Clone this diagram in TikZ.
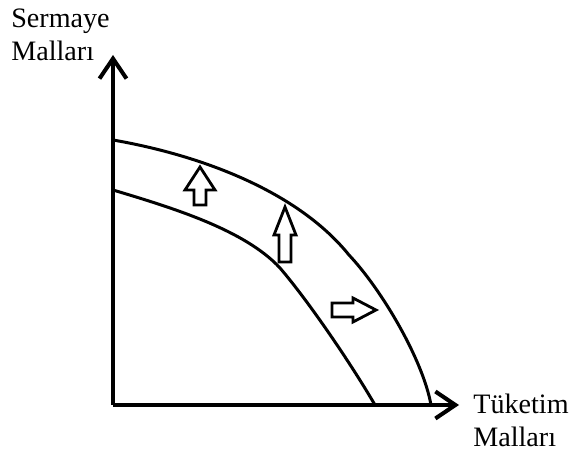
\documentclass[tikz,border=0pt]{standalone}
\usepackage{fontspec}
\setmainfont{Liberation Serif}
\usetikzlibrary{arrows.meta,positioning}

\begin{document}
\begin{tikzpicture}[
    x=0.02cm, y=-0.02cm,
    axis/.style={line width=2.3pt, -{Straight Barb[length=4mm, width=5.4mm, line width=2.3pt]}},
    curve/.style={line width=1.7pt, line cap=round},
    shiftarrow/.style={draw, line width=1.6pt, line join=miter},
    axislabel/.style={inner sep=0pt, align=left, font=\fontsize{16}{18.5}\selectfont},
]
    \useasboundingbox (0,0) rectangle (574,456);

    % axes
    \coordinate (origin) at (113,405);
    \coordinate (ytip) at (113,55);
    \coordinate (xtip) at (459,405);
    \draw[axis] (origin) -- (ytip);
    \draw[axis] (origin) -- (xtip);

    \node[axislabel, anchor=north west] (capital) at (11,9) {Sermaye\\Mallar\i};
    \node[axislabel, anchor=north west] (consumer) at (473,394) {T\"uketim\\Mallar\i};

    % production possibility curves
    \coordinate (inA) at (113,190);
    \coordinate (inB) at (280,268);
    \coordinate (inC) at (375,405);
    \draw[curve] (inA) .. controls (173,208) and (245,230) .. (inB)
        .. controls (310,303) and (353,367) .. (inC);
    \coordinate (outA) at (113,140);
    \coordinate (outB) at (349,255);
    \coordinate (outC) at (431,405);
    \draw[curve] (outA) .. controls (205,156) and (299,193) .. (outB)
        .. controls (382,290) and (423,360) .. (outC);

    % shift arrows
    \draw[shiftarrow] (194,205) -- (206,205) -- (206,190) -- (215,190) -- (200,167)
        -- (185,190) -- (194,190) -- cycle;
    \draw[shiftarrow] (279,262) -- (291,262) -- (291,235) -- (296,235) -- (285,207)
        -- (274,235) -- (279,235) -- cycle;
    \draw[shiftarrow] (332,303) -- (353,303) -- (353,298) -- (376,310) -- (353,322)
        -- (353,317) -- (332,317) -- cycle;
\end{tikzpicture}
\end{document}
